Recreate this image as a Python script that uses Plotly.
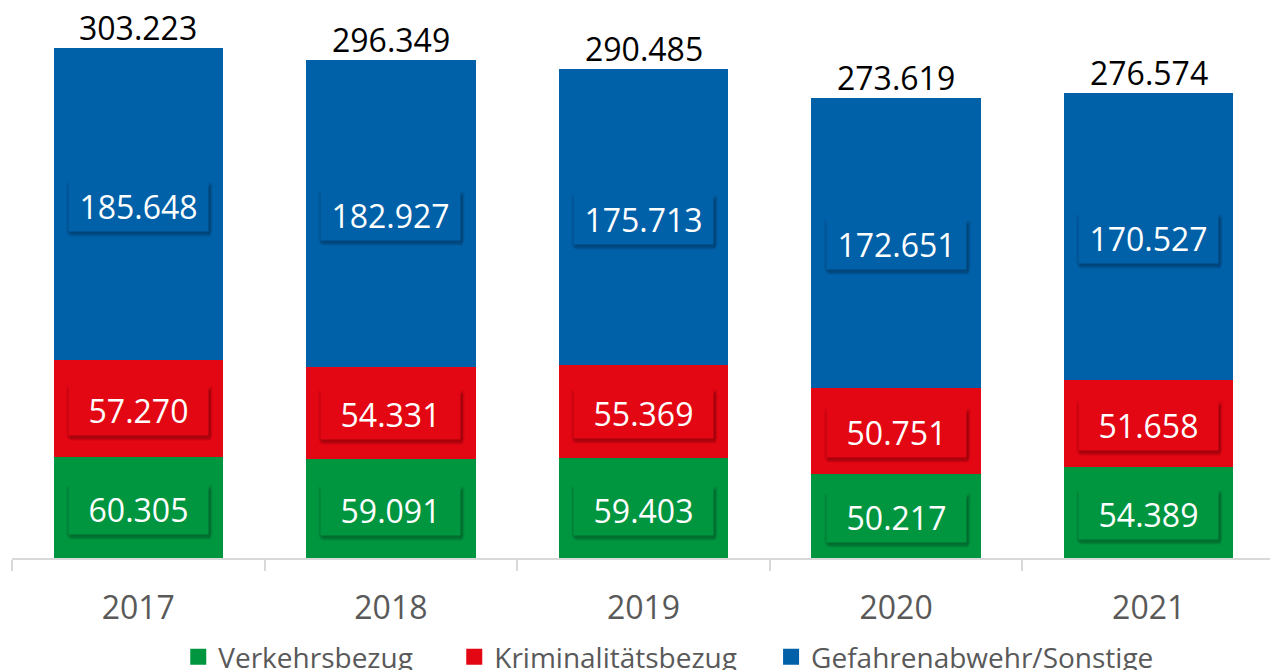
import plotly.graph_objects as go

years = ["2017", "2018", "2019", "2020", "2021"]
verkehr = [60305, 59091, 59403, 50217, 54389]
kriminal = [57270, 54331, 55369, 50751, 51658]
gefahr = [185648, 182927, 175713, 172651, 170527]
series_names = ["Verkehrsbezug", "Kriminalitätsbezug", "Gefahrenabwehr/Sonstige"]
colors = ["#009640", "#e30613", "#0060a8"]

def fmt(v):
    return f"{v:,}".replace(",", ".")

FONT = "Open Sans"
NB = "\u00a0"
legend_pad = [NB * 5, NB * 4, ""]

fig = go.Figure()
series = [verkehr, kriminal, gefahr]
for name, vals, col in zip(series_names, series, colors):
    fig.add_trace(go.Bar(x=years, y=vals, name=name, marker_color=col,
                         marker_line_width=0, width=0.67, showlegend=False))
for name, col, pad in zip(series_names, colors, legend_pad):
    # legend proxy
    fig.add_trace(go.Scatter(x=[years[0]], y=[None], mode="markers", name=name + pad,
                             marker=dict(symbol="square", size=16, color=col)))

annotations = []
totals = [a + b + c for a, b, c in zip(verkehr, kriminal, gefahr)]
# (xshift, yshift, alpha, extra width)
shadow_layers = [(1, -3, 0.07, 6), (1, -5, 0.08, 4), (1, -6, 0.10, 2), (2, -7, 0.08, 0)]
for i, yr in enumerate(years):
    base = 0
    for vals, col in zip(series, colors):
        mid = base + vals[i] / 2
        base += vals[i]
        for dx, dy, alpha, ew in shadow_layers:
            annotations.append(dict(x=i, y=mid, xref="x", yref="y", text=" ",
                                    showarrow=False, width=139 + ew, height=49, borderpad=0,
                                    bgcolor=f"rgba(0,0,0,{alpha})", xshift=dx, yshift=dy,
                                    font=dict(family=FONT, size=32)))
        annotations.append(dict(x=i, y=mid, xref="x", yref="y", text=fmt(vals[i]),
                                showarrow=False, width=139, height=49, borderpad=0,
                                bgcolor=col, yshift=-2,
                                font=dict(family=FONT, size=32, color="white")))
    annotations.append(dict(x=i, y=totals[i], xref="x", yref="y", text=fmt(totals[i]),
                            showarrow=False, yanchor="bottom", yshift=-3,
                            font=dict(family=FONT, size=32, color="black")))

fig.update_layout(
    width=1270, height=662,
    margin=dict(l=4, r=3, t=0, b=112, autoexpand=False),
    paper_bgcolor="white", plot_bgcolor="white",
    barmode="stack", bargap=0.33,
    annotations=annotations,
    showlegend=True,
    legend=dict(orientation="h", x=0.52, xanchor="center", y=-0.18, yanchor="middle",
                font=dict(family=FONT, size=28, color="#595959"),
                traceorder="normal", bgcolor="rgba(0,0,0,0)"),
    xaxis=dict(type="category", categoryorder="array", categoryarray=years,
               range=[-0.5, 4.5], showline=True, linecolor="#d9d9d9", linewidth=2,
               ticks="outside", tickson="boundaries", ticklen=11, tickcolor="#d9d9d9",
               tickwidth=2, showgrid=False, ticklabelstandoff=21, tickangle=0,
               automargin=False,
               tickfont=dict(family=FONT, size=32, color="#595959")),
    yaxis=dict(range=[0, 327005], visible=False, showgrid=False, zeroline=False),
)

fig.write_html("out.html")
